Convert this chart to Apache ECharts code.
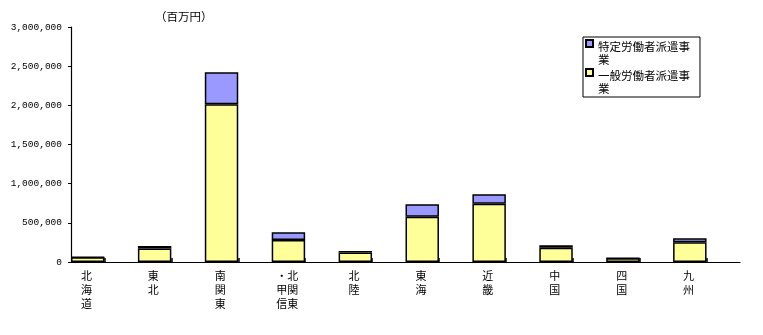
<!DOCTYPE html>
<html>
<head>
<meta charset="utf-8">
<script src="https://cdn.jsdelivr.net/npm/echarts@6/dist/echarts.min.js"></script>
<style>html,body{margin:0;padding:0;background:#fff;}#c{width:763px;height:335px;}</style>
</head>
<body>
<div id="c"></div>
<script>
var categories = ['北海道','東北','南関東','北関東・甲信','北陸','東海','近畿','中国','四国','九州'];
var tickLabels = ['北\n海\n道','東\n北','南\n関\n東','・北\n甲関\n信東','北\n陸','東\n海','近\n畿','中\n国','四\n国','九\n州'];
var generalValues = [60000, 172000, 2013000, 281000, 120000, 578000, 744000, 183000, 47000, 251000];
var specificValues = [2000, 32000, 409000, 98000, 20000, 159000, 120000, 30000, 2000, 51000];
var yTicks = [0, 500000, 1000000, 1500000, 2000000, 2500000, 3000000];
var seriesNames = ['一般労働者派遣事業', '特定労働者派遣事業'];

var font = '"Noto Sans CJK JP", sans-serif';
var chart = echarts.init(document.getElementById('c'), null, {renderer: 'canvas'});
var icon = 'path://M0,0L7,0L7,7L0,7Z M0,26';
chart.setOption({
  animation: false,
  backgroundColor: '#ffffff',
  title: {
    text: '（百万円）', left: 150, top: 6,
    textStyle: {fontFamily: font, fontSize: 11.5, fontWeight: 'normal', color: '#000'}
  },
  legend: {
    orient: 'vertical', left: 583, top: 37,
    data: [seriesNames[1], seriesNames[0]],
    borderColor: '#000', borderWidth: 1, padding: [2, 10, 1, 2],
    itemWidth: 7, itemHeight: 26, itemGap: 1,
    icon: icon,
    formatter: function (n) { return n.slice(0, 8) + '\n' + n.slice(8); },
    textStyle: {fontFamily: font, fontSize: 11.5, lineHeight: 13, color: '#000'}
  },
  grid: {left: 71, right: 23, top: 27, bottom: 73, containLabel: false},
  xAxis: {
    type: 'category', data: categories, boundaryGap: true,
    axisLine: {lineStyle: {color: '#000', width: 1.2}},
    axisTick: {show: true, inside: true, length: 4, alignWithLabel: true, lineStyle: {color: '#000', width: 1.5}},
    axisLabel: {
      interval: 0, margin: 7, padding: [0, 36, 0, 0],
      fontFamily: font, fontSize: 11, lineHeight: 14, color: '#000',
      formatter: function (v, i) { return tickLabels[i]; }
    },
    splitLine: {show: false}
  },
  yAxis: {
    type: 'value', min: 0, max: 3000000, interval: 500000,
    axisLine: {show: true, lineStyle: {color: '#000', width: 1.2}},
    axisTick: {show: true, length: 3, lineStyle: {color: '#000'}},
    splitLine: {show: false},
    axisLabel: {
      margin: 9, fontFamily: '"Liberation Mono", monospace', fontSize: 9.5, color: '#000',
      formatter: function (v) { return yTicks.indexOf(v) >= 0 ? v.toLocaleString('en-US') : ''; }
    }
  },
  series: [
    {
      name: seriesNames[0], type: 'bar', stack: 'a', data: generalValues,
      barGap: '0%', barCategoryGap: '0%',
      itemStyle: {color: '#FFFF99', borderColor: '#000', borderWidth: 1.5}
    },
    {
      name: seriesNames[1], type: 'bar', stack: 'a', data: specificValues,
      itemStyle: {color: '#9999FF', borderColor: '#000', borderWidth: 1.5}
    },
    {
      name: 'spacer', type: 'bar', stack: 'b', data: categories.map(function () { return null; }),
      itemStyle: {color: 'transparent'}, silent: true
    }
  ]
});
</script>
</body>
</html>
